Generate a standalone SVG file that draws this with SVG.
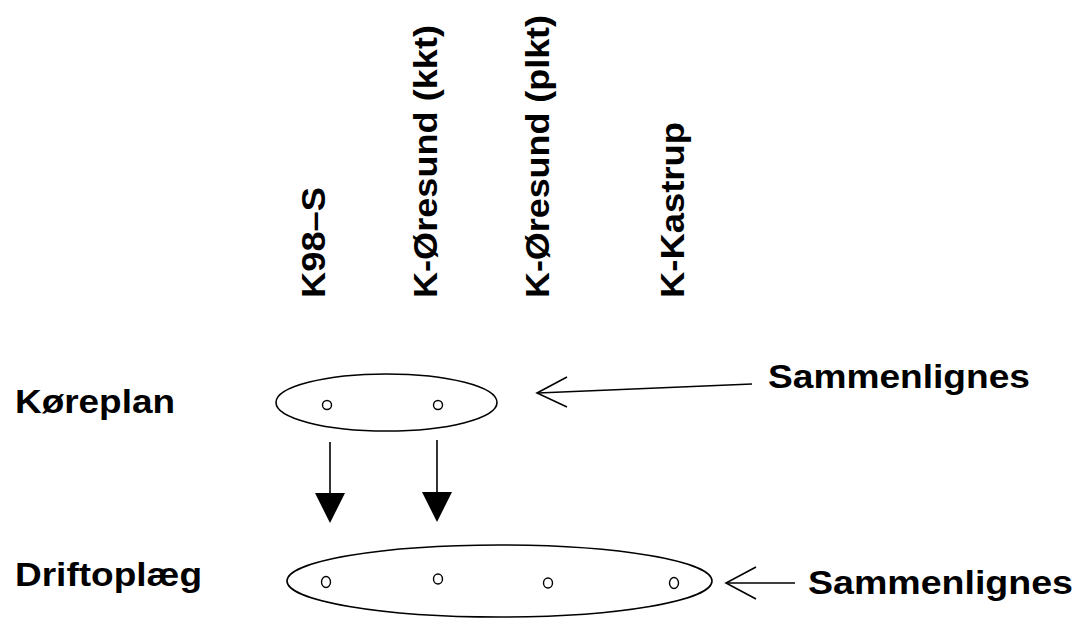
<svg xmlns="http://www.w3.org/2000/svg" width="1090" height="618" viewBox="0 0 1090 618">
<style>
.t{font-family:"Liberation Sans",Arial,sans-serif;font-weight:bold;font-size:34px;fill:#000}
.sh{fill:none;stroke:#000;stroke-width:1.6}
.dot{fill:#fff;stroke:#000;stroke-width:1.4}
.ln{fill:none;stroke:#000;stroke-width:1.6}
.hd{fill:#000;stroke:none}
</style>
<rect width="1090" height="618" fill="#fff"/>
<g id="col-k98s"><text class="t" transform="translate(325,298) rotate(-90)" textLength="111" lengthAdjust="spacingAndGlyphs">K98–S</text></g>
<g id="col-koresund-kkt"><text class="t" transform="translate(437,298) rotate(-90)" textLength="273" lengthAdjust="spacingAndGlyphs">K-Øresund (kkt)</text></g>
<g id="col-koresund-plkt"><text class="t" transform="translate(549,298) rotate(-90)" textLength="283" lengthAdjust="spacingAndGlyphs">K-Øresund (plkt)</text></g>
<g id="col-kkastrup"><text class="t" transform="translate(684,298) rotate(-90)" textLength="176" lengthAdjust="spacingAndGlyphs">K-Kastrup</text></g>
<g id="label-koreplan"><text class="t" x="15" y="413" textLength="160" lengthAdjust="spacingAndGlyphs">Køreplan</text></g>
<g id="label-driftoplaeg"><text class="t" x="15" y="586" textLength="187" lengthAdjust="spacingAndGlyphs">Driftoplæg</text></g>
<g id="koreplan">
<ellipse class="sh" cx="386.5" cy="402.5" rx="110.5" ry="28.5"/>
<circle class="dot" cx="327" cy="405" r="4.5"/>
<circle class="dot" cx="438" cy="405" r="4.5"/>
</g>
<g id="driftoplaeg">
<ellipse class="sh" cx="499.5" cy="581" rx="212.5" ry="36"/>
<ellipse class="dot" cx="326" cy="582" rx="4.5" ry="5.5"/>
<ellipse class="dot" cx="438" cy="579" rx="4.5" ry="5"/>
<ellipse class="dot" cx="548" cy="583" rx="4.5" ry="5"/>
<ellipse class="dot" cx="674" cy="583" rx="4.5" ry="5.5"/>
</g>
<g id="sammenlignes-top"><text class="t" x="768" y="388" textLength="262" lengthAdjust="spacingAndGlyphs">Sammenlignes</text></g>
<g id="sammenlignes-bottom"><text class="t" x="808" y="594" textLength="265" lengthAdjust="spacingAndGlyphs">Sammenlignes</text></g>
<g id="connectors">
<line class="ln" x1="330" y1="442" x2="330" y2="494"/>
<polygon class="hd" points="315,493 345,493 330,523"/>
<line class="ln" x1="437" y1="440" x2="437" y2="493"/>
<polygon class="hd" points="422,492 452,492 437,522"/>
<line class="ln" x1="752" y1="384" x2="538" y2="393"/>
<polyline class="ln" points="567,377 537,393 567,407"/>
<line class="ln" x1="795" y1="583" x2="727" y2="583"/>
<polyline class="ln" points="756,567 726,583 756,599"/>
</g>
</svg>
